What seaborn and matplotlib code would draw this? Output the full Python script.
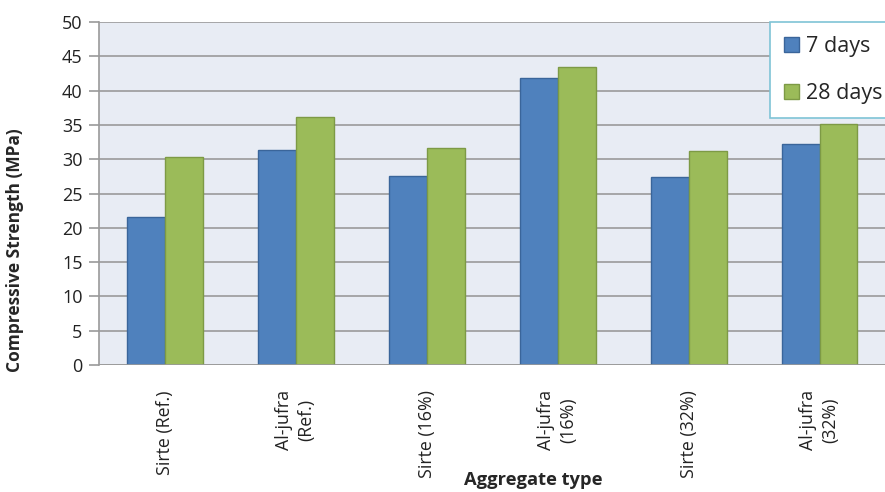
import matplotlib
matplotlib.use("Agg")
import matplotlib.pyplot as plt
import seaborn as sns
import pandas as pd

categories = ["Sirte (Ref.)", "Al-jufra\n(Ref.)", "Sirte (16%)", "Al-jufra\n(16%)", "Sirte (32%)", "Al-jufra\n(32%)"]
days7 = [21.6, 31.4, 27.6, 41.9, 27.4, 32.3]
days28 = [30.4, 36.2, 31.6, 43.5, 31.2, 35.1]
series = ["7 days", "28 days"]

df = pd.DataFrame({
    "cat": categories * 2,
    "val": days7 + days28,
    "series": [series[0]] * len(categories) + [series[1]] * len(categories),
})

sns.set_theme(style="white")
plt.rcParams['font.family'] = ['Open Sans', 'DejaVu Sans']

fig = plt.figure(figsize=(8.85, 4.92), dpi=100)
ax = fig.add_axes([0.112, 0.258, 0.888, 0.697])
ax.set_facecolor("#E8ECF4")

colors = {"7 days": "#4F81BD", "28 days": "#9BBB59"}
edges = {"7 days": "#3A659A", "28 days": "#7D9A45"}
sns.barplot(data=df, x="cat", y="val", hue="series", palette=colors,
            width=0.58, ax=ax, zorder=3, linewidth=1.0, saturation=1)
for cont, s in zip(ax.containers, series):
    for p in cont:
        p.set_edgecolor(edges[s])

ax.set_ylim(0, 50)
ax.set_yticks(range(0, 51, 5))
ax.yaxis.grid(True, color="#9A9A9A", linewidth=1.2, zorder=0)
ax.set_axisbelow(True)
for s in ["top", "right", "bottom"]:
    ax.spines[s].set_visible(False)
ax.spines["left"].set_color("#9A9A9A")
ax.spines["left"].set_linewidth(1.2)
ax.axhline(0, color="#9A9A9A", linewidth=1.2, zorder=4)
ax.tick_params(axis="y", which="both", left=True, length=7, width=1.2, color="#9A9A9A",
               labelsize=13, pad=5, labelcolor="#222222")
ax.tick_params(axis="x", bottom=False, labelsize=12.8, labelrotation=90, pad=12, labelcolor="#222222")
for lab in ax.get_xticklabels():
    lab.set_linespacing(1.3)
    lab.set_horizontalalignment("center")
    lab.set_multialignment("center")
ax.set_xlim(-0.5, 5.5)

ax.set_ylabel("Compressive Strength (MPa)", fontsize=12.5, fontweight="bold")
ax.yaxis.set_label_coords(-0.095, 0.335)
ax.set_xlabel("Aggregate type", fontsize=13.2, fontweight="bold", va="center")
ax.xaxis.set_label_coords(0.553, -0.335)

leg = ax.legend(loc="upper left", bbox_to_anchor=(0.854, 1.0), borderaxespad=0,
                frameon=True, fontsize=15.5,
                handlelength=0.7, handleheight=0.7, handletextpad=0.3,
                labelspacing=1.2, borderpad=0.65, fancybox=False, title=None)
leg.get_frame().set_edgecolor("#7FC4D6")
leg.get_frame().set_linewidth(1.2)
leg.get_frame().set_facecolor("white")
leg.get_frame().set_alpha(1.0)
leg.set_zorder(10)
for h, s in zip(leg.legend_handles, series):
    h.set_edgecolor(edges[s])

fig.savefig("out.png", dpi=100)
